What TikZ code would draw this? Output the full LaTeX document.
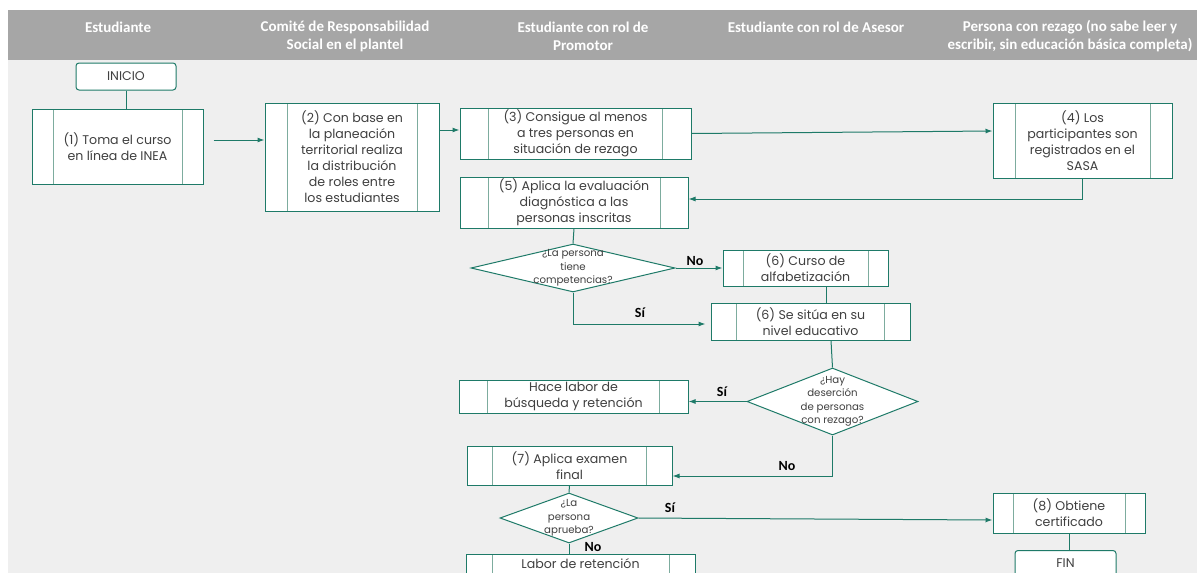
\documentclass[tikz,border=0pt]{standalone}
\usepackage{fontspec}
\setmainfont{Poppins}
\newfontfamily\hdrfont{Carlito}
\usetikzlibrary{arrows.meta, shapes.geometric, positioning}

\definecolor{flowgreen}{RGB}{30,122,104}
\definecolor{sidegreen}{RGB}{125,172,158}
\definecolor{hdrgray}{RGB}{166,166,166}
\definecolor{bggray}{RGB}{239,239,239}
\definecolor{txtgray}{RGB}{64,64,64}

\tikzset{
  proc/.style={draw=flowgreen, line width=1pt, fill=white, align=center,
    text=txtgray, font=\fontsize{12.6}{16}\selectfont, inner sep=0pt,
    path picture={
      \draw[sidegreen, line width=1pt]
        ([xshift=#1]path picture bounding box.north west) --
        ([xshift=#1]path picture bounding box.south west);
      \draw[sidegreen, line width=1pt]
        ([xshift=-#1]path picture bounding box.north east) --
        ([xshift=-#1]path picture bounding box.south east);
    }},
  proc/.default=22pt,
  terminal/.style={draw=flowgreen, line width=1pt, fill=white, rounded corners=3pt,
    text=txtgray, font=\fontsize{12.6}{16}\selectfont, inner sep=0pt},
  decision/.style={diamond, draw=flowgreen, line width=1pt, fill=white, inner sep=0pt},
  dtext/.style={align=center, text=txtgray, font=\fontsize{10.2}{13.5}\selectfont},
  flow/.style={draw=flowgreen, line width=1pt, -{Latex[length=7pt,width=5pt]}},
  link/.style={draw=flowgreen, line width=1pt},
  answer/.style={font=\hdrfont\fontsize{14}{14}\selectfont\bfseries, text=black},
  lane/.style={font=\hdrfont\fontsize{15}{18}\selectfont\bfseries, text=white, align=center}
}

\begin{document}
\begin{tikzpicture}[x=1pt, y={(0,-1pt)}]
  \useasboundingbox (0,0) rectangle (1197,573);
  \clip (0,0) rectangle (1197,573);

  % background and lanes
  \fill[white] (0,0) rectangle (1197,573);
  \fill[hdrgray] (8,10) rectangle (1197,60);
  \fill[bggray] (8,60) rectangle (1197,573);
  \node[lane] (lane1) at (118,27) {Estudiante};
  \node[lane] (lane2) at (345,36) {Comité de Responsabilidad\\Social en el plantel};
  \node[lane] (lane3) at (583,36) {Estudiante con rol de\\Promotor};
  \node[lane] (lane4) at (816,27) {Estudiante con rol de Asesor};
  \node[lane] (lane5) at (1070,36) {Persona con rezago (no sabe leer y\\escribir, sin educación básica completa)};

  % steps
  \node[terminal, minimum width=100pt, minimum height=27pt] (inicio) at (126,76.5) {INICIO};
  \node[proc=21pt, minimum width=171pt, minimum height=75pt] (n1) at (117.5,146.5)
    {(1) Toma el curso\\en línea de INEA};
  \node[proc=22pt, minimum width=174pt, minimum height=108pt] (n2) at (352,157)
    {(2) Con base en\\la planeación\\territorial realiza\\la distribución\\de roles entre\\los estudiantes};
  \node[proc=28.5pt, minimum width=231pt, minimum height=51pt] (n3) at (575.5,133.5)
    {(3) Consigue al menos\\a tres personas en\\situación de rezago};
  \node[proc=22pt, minimum width=179pt, minimum height=75pt] (n4) at (1082.5,140.5)
    {(4) Los\\participantes son\\registrados en el\\SASA};
  \node[proc=28pt, minimum width=228pt, minimum height=51pt] (n5) at (574,202.5)
    {(5) Aplica la evaluación\\diagnóstica a las\\personas inscritas};

  \node[decision, minimum width=204pt, minimum height=48pt] (d1) at (573,268) {};
  \node[dtext] (d1t) at (d1) {¿La persona\\tiene\\competencias?};

  \node[proc=20pt, minimum width=165pt, minimum height=36pt] (n6a) at (805.5,268)
    {(6) Curso de\\alfabetización};
  \node[proc=25.5pt, minimum width=199pt, minimum height=37pt] (n6b) at (810.5,321.5)
    {(6) Se sitúa en su\\nivel educativo};
  \node[proc=28.5pt, minimum width=229pt, minimum height=33pt] (hace) at (573.5,396.5)
    {Hace labor de\\búsqueda y retención};

  \node[decision, minimum width=171pt, minimum height=67pt] (d2) at (832.5,401.5) {};
  \node[dtext] (d2t) at (d2) {¿Hay\\deserción\\de personas\\con rezago?};

  \node[proc=25.5pt, minimum width=205pt, minimum height=39pt] (n7) at (569.5,465.5)
    {(7) Aplica examen\\final};

  \node[decision, minimum width=138pt, minimum height=50pt] (d3) at (569,518) {};
  \node[dtext] (d3t) at (d3) {¿La\\persona\\aprueba?};

  \node[proc=26pt, minimum width=229pt, anchor=north, inner ysep=4pt,
    text height=10pt, text depth=24pt] (ret) at (580.5,554) {Labor de retención};
  \node[proc=20pt, minimum width=152pt, minimum height=40pt] (n8) at (1069,513)
    {(8) Obtiene\\certificado};
  \node[terminal, minimum width=101pt, anchor=north, inner ysep=7pt,
    text height=10pt, text depth=24pt] (fin) at (1065.5,550) {FIN};

  % answers
  \node[answer] (no1) at (695,261) {No};
  \node[answer] (si1) at (640,313) {Sí};
  \node[answer] (si2) at (722,392) {Sí};
  \node[answer] (no2) at (787,466) {No};
  \node[answer] (si3) at (670,508) {Sí};
  \node[answer] (no3) at (593,547) {No};

  % connectors
  \draw[link] (inicio.south) -- (inicio.south |- n1.north);
  \draw[flow] ([xshift=10pt,yshift=6.5pt]n1.east) -- ([yshift=6.5pt]n1.east -| n2.west);
  \draw[flow] ([yshift=3.5pt]n3.west -| n2.east) -- ([yshift=3.5pt]n3.west);
  \draw[flow] (n3.east) -- ([yshift=9.5pt]n4.west);
  \draw[flow] (n4.south) |- ([yshift=3.5pt]n5.east);
  \draw[link] (n5.south) -- (d1.north);
  \draw[flow] (d1.east) -- (n6a.west);
  \draw[flow] (d1.south) |- ([xshift=-5pt,yshift=-2.5pt]n6b.west);
  \draw[link] ([xshift=21pt]n6a.south) -- ([xshift=21pt]n6a.south |- n6b.north);
  \draw[link] ([xshift=20.5pt]n6b.south) -- (d2.north);
  \draw[flow] (d2.west) -- (hace.east |- d2.west);
  \draw[flow] (d2.south) |- ([yshift=-10.5pt]n7.east);
  \draw[link] (n7.south) -- (d3.north);
  \draw[flow] (d3.east) -- ([yshift=-7pt]n8.west);
  \draw[link] (d3.south) -- (d3.south |- ret.north);
  \draw[link] (n8.south) -- (n8.south |- fin.north);
\end{tikzpicture}
\end{document}
